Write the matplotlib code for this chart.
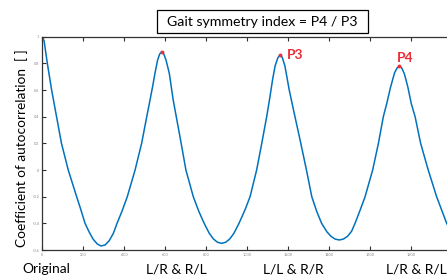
import matplotlib
matplotlib.use("Agg")
import matplotlib.pyplot as plt
from matplotlib.patches import Rectangle

lag = [0, 10, 26, 47, 71, 95, 128, 169, 190, 210, 230, 250, 270, 288, 308, 328, 348, 366, 390, 416, 454, 486, 511, 527,
       540, 551, 564, 574, 584, 594, 605, 621, 640, 673,
       702, 738, 765, 791, 816, 836, 856, 876, 896, 916, 936, 961, 990, 1015, 1047, 1072, 1096, 1112, 1125, 1137, 1150,
       1161, 1172, 1185, 1206, 1234, 1259, 1290,
       1316, 1340, 1364, 1390, 1410, 1430, 1450, 1470, 1490, 1510, 1527, 1552, 1576, 1613, 1641, 1665, 1682, 1700, 1720,
       1732, 1743, 1755, 1768, 1785, 1801, 1820, 1847, 1884, 1925, 1974, 2000]
acf = [1.0, 0.97, 0.8, 0.6, 0.4, 0.2, 0.0, -0.2, -0.3, -0.4, -0.465, -0.52, -0.555, -0.57, -0.562, -0.53, -0.475, -0.4, -0.31, -0.2, 0.0, 0.2, 0.4, 0.525,
       0.63, 0.725, 0.825, 0.87, 0.888, 0.87, 0.825, 0.725, 0.525, 0.25,
       0.0, -0.2, -0.31, -0.4, -0.475, -0.517, -0.542, -0.55, -0.542, -0.517, -0.475, -0.4, -0.3, -0.2, 0.0, 0.2, 0.4, 0.55, 0.68, 0.78, 0.84,
       0.863, 0.845, 0.78, 0.6, 0.4, 0.225, 0.0,
       -0.2, -0.31, -0.4, -0.464, -0.498, -0.518, -0.525, -0.518, -0.498, -0.46, -0.4, -0.3, -0.2, 0.0, 0.2, 0.4, 0.5, 0.62, 0.73,
       0.765, 0.78, 0.765, 0.72, 0.62, 0.5, 0.4, 0.2, 0.0, -0.2, -0.4, -0.47]

peak_x = [0, 584, 1161, 1743]
peak_y = [1.0, 0.888, 0.863, 0.78]

xticks = [0, 200, 400, 600, 800, 1000, 1200, 1400, 1600, 1800]
yticks = [-0.6, -0.4, -0.2, 0, 0.2, 0.4, 0.6, 0.8, 1]
ytick_labels = ["-0.6", "-0.4", "-0.2", "0", "0.2", "0.4", "0.6", "0.8", "1"]
group_labels = ["Original", "L/R & R/L", "L/L & R/R", "L/R & R/L"]
group_x_px = [46, 176, 293, 416]

plt.rcParams['font.family'] = ['Lato', 'DejaVu Sans']

W, H = 447, 278
fig = plt.figure(figsize=(W/100, H/100), dpi=100)
ax = fig.add_axes([42/W, 28/H, 410/W, (250-36.7)/H])
ax.plot(lag, acf, color='#0072BD', lw=1.1)
ax.plot(peak_x, peak_y, 'o', color='#E8303A', ms=2.8, mec='none')
ax.set_xlim(0, 2000)
ax.set_ylim(-0.6, 1.0)
ax.set_xticks(xticks)
ax.set_xticklabels([str(t) for t in xticks])
ax.set_yticks(yticks)
ax.set_yticklabels(ytick_labels)
ax.tick_params(direction='in', length=3, width=0.8, labelsize=2.8, labelcolor='#888888',
               top=True, right=False, pad=2, color='#333333')
for s in ['left', 'bottom', 'top']:
    ax.spines[s].set_color('#333333')
    ax.spines[s].set_linewidth(0.9)
ax.spines['right'].set_visible(False)

fig.text(287/W, 1 - 55/H, "P3", color='#E8303A', fontsize=10, fontweight='bold', va='center', ha='left')
fig.text(405/W, 1 - 58/H, "P4", color='#E8303A', fontsize=10, fontweight='bold', va='center', ha='center')

fig.text(22/W, 1 - 148/H, "Coefficient of autocorrelation  [ ]", rotation=90,
         ha='center', va='center', fontsize=9.8)
fig.patches.append(Rectangle((157/W, 1 - 33/H), (368-157)/W, 23/H, transform=fig.transFigure,
                             fill=True, fc='white', ec='black', lw=0.9))
fig.text(262.5/W, 1 - 21.5/H, "Gait symmetry index = P4 / P3", ha='center', va='center', fontsize=10.2)
for lbl, px in zip(group_labels, group_x_px):
    fig.text(px/W, 1 - 269/H, lbl, ha='center', va='center', fontsize=10)

fig.savefig("out.png", dpi=100)
